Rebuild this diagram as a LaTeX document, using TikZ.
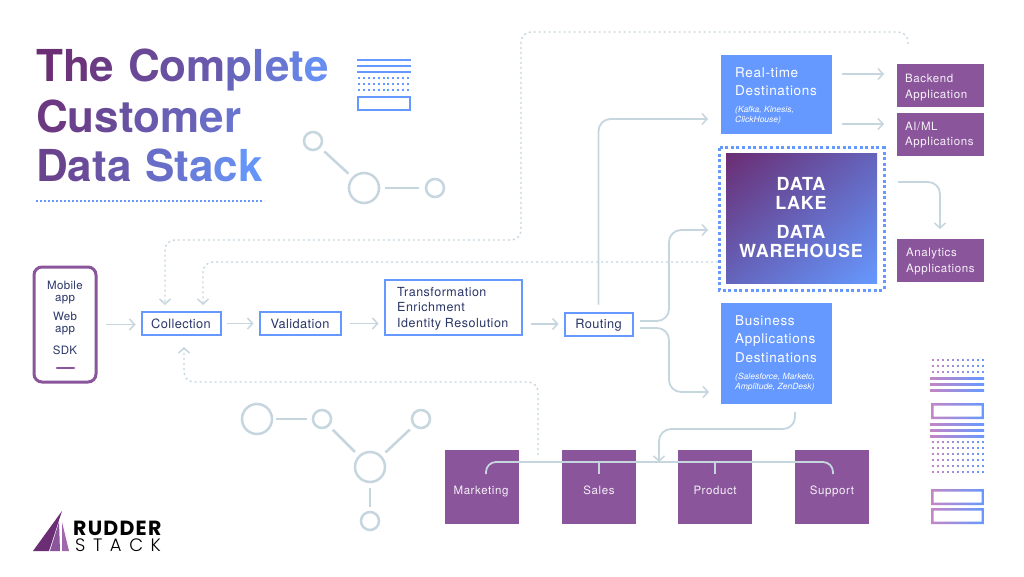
\documentclass[tikz,border=0pt]{standalone}
\usepackage{fontspec}
\setmainfont{TeX Gyre Heros}
\newfontfamily\logofont{Poppins}
\newfontfamily\logolight{Poppins Light}
\usetikzlibrary{arrows.meta,shadings}
\definecolor{bluea}{HTML}{6699FF}
\definecolor{purp}{HTML}{8A559B}
\definecolor{deep}{HTML}{6B2D73}
\definecolor{pinkish}{HTML}{C485C4}
\definecolor{conn}{HTML}{C6D6DF}
\definecolor{navy}{HTML}{2A3668}
\definecolor{boxmid}{HTML}{6464BC}
\newcommand{\gl}[2]{{\color{bluea!#1!deep}#2}}
\tikzset{
  x=1pt,y=-1pt,
  tip/.style={-{Straight Barb[length=5pt,width=11pt,line width=1.5pt]}},
  link/.style={draw=conn,line width=1.8pt,rounded corners=12pt},
  dotlink/.style={draw=conn,line width=1.4pt,dash pattern=on 2pt off 3pt,rounded corners=10pt},
  stagebox/.style={draw=bluea,line width=2pt,fill=white,inner sep=0pt,text=navy,text height=10pt,text depth=2pt,font=\fontsize{12.8}{14}\selectfont\addfontfeature{LetterSpace=3}},
  bluebox/.style={fill=bluea,inner sep=0pt},
  purpbox/.style={fill=purp,inner sep=0pt},
  boxtext/.style={text=white,inner sep=0pt,anchor=base west,font=\fontsize{13.5}{18.5}\selectfont\addfontfeature{LetterSpace=5}},
  smalltext/.style={text=white,inner sep=0pt,anchor=base west,font=\fontsize{8.5}{10}\selectfont\itshape},
  apptext/.style={text=white!92!purp,inner sep=0pt,anchor=base west,font=\fontsize{11.5}{16}\selectfont\addfontfeature{LetterSpace=5}},
  teamtext/.style={text=white!92!purp,inner sep=0pt,anchor=base,font=\fontsize{11.5}{14}\selectfont\addfontfeature{LetterSpace=5}},
  titletext/.style={inner sep=0pt,anchor=base west,font=\fontsize{44}{50}\selectfont\bfseries\addfontfeature{LetterSpace=3.5}},
  hub/.style={circle,draw=conn,line width=2.5pt,inner sep=0pt,fill=white},
  spoke/.style={draw=conn,line width=2.5pt},
  phonetext/.style={text=navy,inner sep=0pt,font=\fontsize{11.5}{12}\selectfont\addfontfeature{LetterSpace=3},align=center},
  laketext/.style={text=white,inner sep=0pt,anchor=base,font=\fontsize{18}{20}\selectfont\bfseries\addfontfeature{LetterSpace=4}},
}
\begin{document}
\begin{tikzpicture}
\useasboundingbox (0,0) rectangle (1024,577);
\fill[white] (0,0) rectangle (1024,577);

% title
\node[titletext] (t1) at (36,82) {\gl{0}{T}\gl{6}{h}\gl{12}{e} \gl{25}{C}\gl{32}{o}\gl{40}{m}\gl{52}{p}\gl{62}{l}\gl{68}{e}\gl{78}{t}\gl{90}{e}};
\node[titletext] (t2) at (36,133) {\gl{10}{C}\gl{18}{u}\gl{26}{s}\gl{33}{t}\gl{40}{o}\gl{48}{m}\gl{58}{e}\gl{66}{r}};
\node[titletext] (t3) at (36,182) {\gl{20}{D}\gl{28}{a}\gl{36}{t}\gl{42}{a} \gl{60}{S}\gl{68}{t}\gl{76}{a}\gl{86}{c}\gl{96}{k}};
\draw[bluea,line width=2pt,dash pattern=on 2pt off 2pt] (36,201) -- (264,201);

% top icon
\foreach \yy in {60,66,72} \fill[bluea] (357,\yy-1) rectangle (411,\yy+1);
\foreach \yy in {78,84,90} \draw[bluea,line width=2pt,dash pattern=on 2pt off 2.9pt] (358,\yy) -- (411,\yy);
\draw[bluea,line width=2pt] (358,97) rectangle (410,110);

% hub graphs
\node[hub,minimum size=18pt] (ha) at (313,141) {};
\node[hub,minimum size=30pt] (hb) at (364,188) {};
\node[hub,minimum size=18pt] (hc) at (435,188) {};
\draw[spoke,shorten <=5pt,shorten >=5pt] (ha) -- (hb);
\draw[spoke,shorten <=5pt,shorten >=6pt] (hb) -- (hc);
\node[hub,minimum size=30pt] (hd) at (257,419) {};
\node[hub,minimum size=18pt] (he) at (322,419) {};
\node[hub,minimum size=18pt] (hf) at (421,419) {};
\node[hub,minimum size=30pt] (hg) at (370,467) {};
\node[hub,minimum size=18pt] (hh) at (370,521) {};
\draw[spoke,shorten <=3pt,shorten >=5pt] (hd) -- (he);
\draw[spoke,shorten <=5pt,shorten >=5pt] (he) -- (hg);
\draw[spoke,shorten <=5pt,shorten >=5pt] (hf) -- (hg);
\draw[spoke,shorten <=5pt,shorten >=4pt] (hg) -- (hh);

% phone
\node[draw=purp,line width=3pt,rounded corners=8pt,minimum width=62pt,minimum height=115pt,inner sep=0pt] (phone) at (65,324.5) {};
\node[phonetext] (pm) at (65,292.5) {Mobile\\app};
\node[phonetext] (pw) at (65,324) {Web\\app};
\node[phonetext] (ps) at (65,350) {SDK};
\draw[purp,line width=2.6pt,line cap=round] (57,368) -- (74,368);

% stages
\node[stagebox,minimum width=79pt,minimum height=23pt,text height=11pt] (coll) at (181,323.5) {Collection};
\node[stagebox,minimum width=81pt,minimum height=23pt,text height=11pt] (vali) at (300,323.5) {Validation};
\node[stagebox,minimum width=137pt,minimum height=55pt,text height=,text depth=] (tran) at (453,307.5) {};
\node[text=navy,inner sep=0pt,anchor=base west,align=left,font=\fontsize{12.5}{15.5}\selectfont\addfontfeature{LetterSpace=4}] (trant) at (397,327) {Transformation\\Enrichment\\Identity Resolution};
\node[stagebox,minimum width=68pt,minimum height=23pt] (rout) at (598.5,324) {Routing};

% destinations
\node[bluebox,minimum width=111pt,minimum height=79pt] (rt) at (776.5,94.5) {};
\node[boxtext] at (735,78) {Real-time};
\node[boxtext] at (735,96) {Destinations};
\node[smalltext] at (735,113) {(Kafka, Kinesis,};
\node[smalltext] at (735,123) {ClickHouse)};
\node[bluebox,minimum width=111pt,minimum height=101pt] (biz) at (776.5,353.5) {};
\node[boxtext] at (735,325) {Business};
\node[boxtext] at (735,343) {Applications};
\node[boxtext] at (735,362) {Destinations};
\node[smalltext] at (735,379) {(Salesforce, Marketo,};
\node[smalltext] at (735,389) {Amplitude, ZenDesk)};

% data box
\draw[bluea,line width=3pt,dash pattern=on 3pt off 2.6pt] (719,148) rectangle (884,290);
\node[inner sep=0pt,minimum width=151pt,minimum height=129pt,shade,upper left=deep,lower right=bluea,upper right=boxmid,lower left=boxmid] (lake) at (801.5,218.5) {};
\node[laketext] at (801,190.5) {DATA};
\node[laketext] at (801,209.5) {LAKE};
\node[laketext] at (801,238.5) {DATA};
\node[laketext] at (801,257.5) {WAREHOUSE};

% apps
\node[purpbox,minimum width=87pt,minimum height=43pt] (be) at (940.5,85.5) {};
\node[apptext] at (905,83) {Backend};
\node[apptext] at (905,98.5) {Application};
\node[purpbox,minimum width=87pt,minimum height=43pt] (ai) at (940.5,134.5) {};
\node[apptext] at (905,130.5) {AI/ML};
\node[apptext] at (905,146) {Applications};
\node[purpbox,minimum width=87pt,minimum height=43pt] (an) at (940.5,260.5) {};
\node[apptext] at (906,256.5) {Analytics};
\node[apptext] at (906,272) {Applications};

% teams
\node[purpbox,minimum size=74pt] (mk) at (482,487) {};
\node[purpbox,minimum size=74pt] (sa) at (599,487) {};
\node[purpbox,minimum size=74pt] (pr) at (715,487) {};
\node[purpbox,minimum size=74pt] (su) at (832,487) {};

% ports
\coordinate (rtin) at (721,119);
\coordinate (lakein) at (726,230);
\coordinate (bizin) at (721,392);
\coordinate (routa) at (633,321);
\coordinate (routb) at (633,328);
\coordinate (rtoa) at (832,74);
\coordinate (beo) at (897,74);
\coordinate (rtob) at (832,124);
\coordinate (aio) at (897,124);
\coordinate (lakeo) at (877,182);
\coordinate (ano) at (940,239);
\coordinate (bizo) at (795,404);
\coordinate (busm) at (659,462);
\coordinate (busl) at (486,474);
\coordinate (busr) at (833,474);
\coordinate (tpa) at (908,44);
\coordinate (tpb) at (908,32);
\coordinate (tpc) at (521,32);
\coordinate (tpd) at (521,240);
\coordinate (tpe) at (165,240);
\coordinate (tpf) at (165,311);
\coordinate (lka) at (726,262);
\coordinate (lkb) at (203,262);
\coordinate (lkc) at (203,311);
\coordinate (fba) at (538,455);
\coordinate (fbb) at (538,382);
\coordinate (fbc) at (184,382);
\coordinate (fbd) at (184,335);

% main connectors
\draw[link,tip,shorten <=8pt,shorten >=5pt] (phone.east) -- (coll.west |- phone.east);
\draw[link,tip,shorten <=5pt,shorten >=5pt] (coll) -- (vali);
\draw[link,tip,shorten <=8pt,shorten >=5pt] (vali.east) -- (tran.west |- vali.east);
\draw[link,tip,shorten <=8pt,shorten >=5pt] (tran.east |- rout.west) -- (rout.west);
\draw[link,tip,shorten <=7pt,shorten >=13pt] (rout.north) |- (rtin);
\draw[link,tip,shorten <=7pt,shorten >=18pt] (routa) -| (669,275) |- (lakein);
\draw[link,tip,shorten <=7pt,shorten >=12pt] (routb) -| (669,360) |- (bizin);
\draw[link,tip,shorten <=10pt,shorten >=13pt] (rtoa) -- (beo);
\draw[link,tip,shorten <=10pt,shorten >=13pt] (rtob) -- (aio);
\draw[link,tip,shorten <=21pt,shorten >=10pt] (lakeo) -| (ano);
\draw[link,tip,shorten <=8pt] (bizo) |- (659,429) -- (busm);
\draw[link,rounded corners=10pt] (busl) |- (busm) -| (busr);
\draw[link] (sa.center |- busm) -- +(0,12);
\draw[link] (pr.center |- busm) -- +(0,12);

% dotted connectors
\draw[dotlink,tip,shorten >=6pt] (tpa) -- (tpb) -- (tpc) -- (tpd) -- (tpe) -- (tpf);
\draw[dotlink,tip,shorten >=6pt,shorten <=8pt] (lka) -- (lkb) -- (lkc);
\draw[dotlink,tip,shorten >=12pt] (fba) -- (fbb) -- (fbc) -- (fbd);

% team labels
\node[teamtext] at (481,494) {Marketing};
\node[teamtext] at (599,494) {Sales};
\node[teamtext] at (715,494) {Product};
\node[teamtext] at (832,494) {Support};

% bottom right icon
\foreach \yy in {360,366,372,442,448,454,460,466,472}
  \foreach \i in {0,...,10}{
    \pgfmathsetmacro\p{\i*10}
    \fill[bluea!\p!pinkish] (933+\i*5-1,\yy-1) rectangle (933+\i*5+1,\yy+1);
  }
\foreach \yy in {378,384,390,424,430,436}
  \shade[left color=pinkish,right color=bluea] (930,\yy-1) rectangle (984,\yy+1);
\shade[left color=pinkish,right color=bluea,even odd rule] (931,403) rectangle (984,419) (933.5,405.5) rectangle (981.5,416.5);
\shade[left color=pinkish,right color=bluea,even odd rule] (931,489) rectangle (984,505) (933.5,491.5) rectangle (981.5,502.5);
\shade[left color=pinkish,right color=bluea,even odd rule] (931,508) rectangle (984,524) (933.5,510.5) rectangle (981.5,521.5);

% logo
\fill[deep] (62,511) -- (49,551) -- (33,551) -- cycle;
\fill[purp] (59,522) -- (60,551) -- (50,551) -- cycle;
\fill[purp!60!pinkish] (62,522) -- (69,551) -- (62,551) -- cycle;
\node[inner sep=0pt,anchor=base west,text height=14pt,text depth=0pt,font=\logofont\bfseries\fontsize{20.5}{20}\selectfont\addfontfeature{LetterSpace=6}] (lg1) at (73,535) {RUDDER};
\node[inner sep=0pt,anchor=base west,text height=13pt,text depth=0pt,font=\logolight\fontsize{18}{20}\selectfont\addfontfeature{LetterSpace=42}] (lg2) at (75,551.5) {STACK};
\end{tikzpicture}
\end{document}
